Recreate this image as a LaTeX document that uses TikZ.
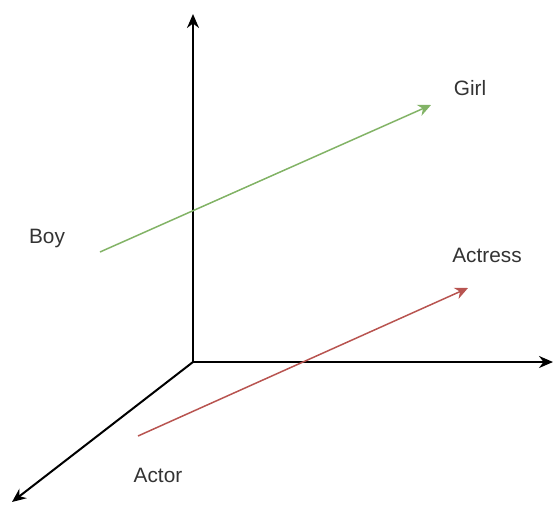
\documentclass[tikz,border=0pt]{standalone}
\usepackage{fontspec}
\setmainfont{Liberation Sans}
\usetikzlibrary{arrows.meta,positioning}

\begin{document}
\begin{tikzpicture}[x=0.5pt, y=-0.5pt,
  axis/.style={line width=1pt, black, -{Stealth[length=7pt,width=6pt]}},
  vec/.style={line width=0.75pt, -{Stealth[length=6.5pt,width=6pt]}},
  lbl/.style={anchor=base, font=\fontsize{10.4}{12}\selectfont, text=black!80, inner sep=0pt},
]
\definecolor{vGrn}{HTML}{82B366}
\definecolor{vRed}{HTML}{B85450}
\useasboundingbox (0,0) rectangle (553,505);
% ---- axes ----
\coordinate (O) at (193,362);
\coordinate (Yend) at (193,14);
\coordinate (Xend) at (553,362);
\coordinate (Zend) at (12,502);
\draw[axis] (O) -- (Yend);
\draw[axis] (O) -- (Xend);
\draw[axis] (O) -- (Zend);
% ---- labels ----
\node[lbl] (girl) at (470,95) {Girl};
\node[lbl] (boy) at (47,243) {Boy};
\node[lbl] (actress) at (487,262) {Actress};
\node[lbl] (actor) at (158,482) {Actor};
% ---- vectors ----
\coordinate (boyS) at (100,252);
\coordinate (girlE) at (431,105);
\coordinate (actorS) at (138,436);
\coordinate (actressE) at (468,288);
\draw[vec, vGrn] (boyS) -- (girlE);
\draw[vec, vRed] (actorS) -- (actressE);
\end{tikzpicture}
\end{document}
